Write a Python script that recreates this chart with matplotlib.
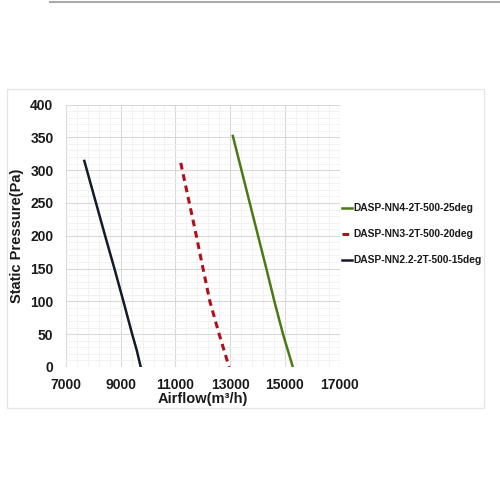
import numpy as np
import matplotlib.pyplot as plt
from matplotlib.patches import Rectangle
from matplotlib.lines import Line2D

plt.rcParams['font.family'] = ['Liberation Sans', 'DejaVu Sans']

# curve data
nn22_flow = [7670, 8097, 8430, 8770, 9100, 9420, 9590, 9732]
nn22_pres = [314, 250, 200, 150, 100, 50, 25, 0]

nn3_flow = [11196, 11509, 11765, 12010, 12260, 12600, 12964]
nn3_pres = [311, 250, 200, 150, 100, 50, 0]

nn4_flow = [13100, 13415, 13718, 14021, 14325, 14620, 14935, 15294]
nn4_pres = [352, 300, 250, 200, 150, 100, 50, 0]

labels = ['DASP-NN4-2T-500-25deg', 'DASP-NN3-2T-500-20deg', 'DASP-NN2.2-2T-500-15deg']
xticks = [7000, 9000, 11000, 13000, 15000, 17000]
yticks = [0, 50, 100, 150, 200, 250, 300, 350, 400]

fig = plt.figure(figsize=(5, 5), dpi=100)
ax = fig.add_axes([0.132, 0.266, 0.547, 0.525])

# outer frame and top rule
fig.patches.append(Rectangle((0.014, 0.184), 0.954, 0.638, transform=fig.transFigure,
                             fill=False, edgecolor='#e6e6e6', linewidth=1))
fig.add_artist(Line2D([0.1, 1.0], [0.997, 0.997], transform=fig.transFigure,
                      color='#aaaaaa', linewidth=1.5))

g, = ax.plot(nn4_flow, nn4_pres, color='#4a7a14', linewidth=1.8, label=labels[0])
r, = ax.plot(nn3_flow, nn3_pres, color='#b0101a', linewidth=2.2, linestyle=(0, (2.2, 1.6)),
             label=labels[1])
b, = ax.plot(nn22_flow, nn22_pres, color='#141a2a', linewidth=1.8, label=labels[2])

ax.set_xlim(7000, 17000)
ax.set_ylim(0, 400)
ax.set_xticks(xticks)
ax.set_yticks(yticks)
ax.set_xticks(np.arange(7000, 17001, 400), minor=True)
ax.set_yticks(np.arange(0, 401, 10), minor=True)
ax.grid(which='major', color='#d9d9d9', linewidth=0.8)
ax.grid(which='minor', color='#f0f0f0', linewidth=0.6)
ax.set_axisbelow(True)
for s in ax.spines.values():
    s.set_visible(False)
ax.tick_params(which='both', length=0)
ax.tick_params(axis='x', pad=8, labelsize=10)
ax.tick_params(axis='y', pad=9, labelsize=10)
for t in ax.get_xticklabels() + ax.get_yticklabels():
    t.set_fontweight('bold')
    t.set_color('#1a1a1a')

ax.set_xlabel('Airflow(m³/h)', fontsize=10.5, fontweight='bold', color='#1a1a1a')
ax.set_ylabel('Static Pressure(Pa)', fontsize=10.5, fontweight='bold', color='#1a1a1a')
ax.xaxis.set_label_coords(0.5, -0.095)
ax.yaxis.set_label_coords(-0.154, 0.5)

ax.legend(handles=[g, r, b], loc='center left', bbox_to_anchor=(0.99, 0.506), frameon=False,
          handlelength=1.0, handletextpad=0.15, labelspacing=1.55, borderpad=0,
          prop={'weight': 'bold', 'size': 7.4}, labelcolor='#1a1a1a')

plt.savefig('out.png', dpi=100)
